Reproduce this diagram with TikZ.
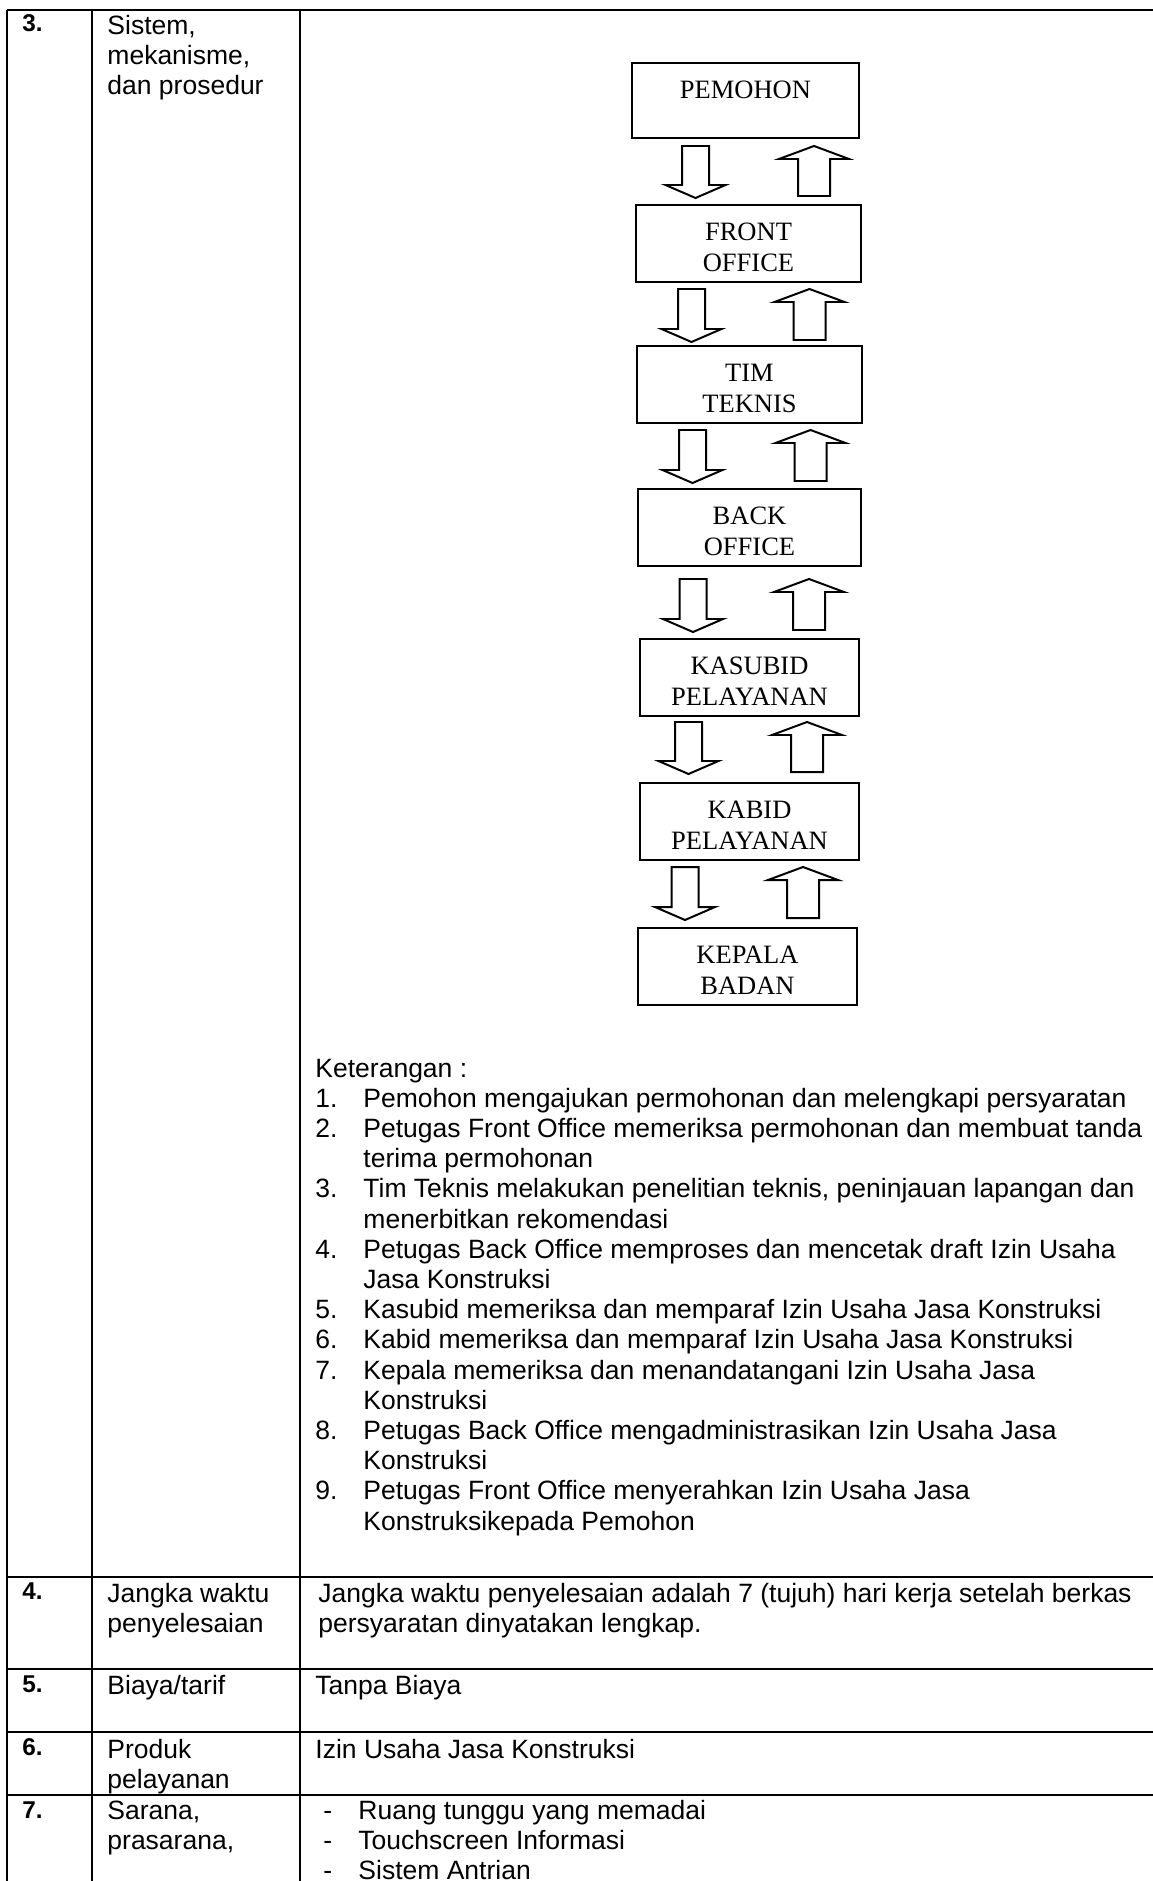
\documentclass[tikz,border=0pt]{standalone}
\usepackage{fontspec}
\setmainfont{Liberation Sans}
\newfontfamily\boxfont{Liberation Serif}
\usetikzlibrary{positioning}

% one unit = one pixel of the scanned page
\def\px{0.4528}

% hollow block arrows between the boxes
\newcommand{\downblk}[3]{%
  \draw[blockarrow] (#1-13.5,#2) -- (#1+13.5,#2) -- (#1+13.5,#3-13) -- (#1+30,#3-13)
    -- (#1,#3) -- (#1-30,#3-13) -- (#1-13.5,#3-13) -- cycle;}
\newcommand{\upblk}[3]{%
  \draw[blockarrow] (#1-16,#3) -- (#1+16,#3) -- (#1+16,#2+13) -- (#1+35,#2+13)
    -- (#1,#2) -- (#1-35,#2+13) -- (#1-16,#2+13) -- cycle;}

\tikzset{
  tabline/.style={line width=1.2pt},
  flowbox/.style={draw, line width=0.9pt, inner sep=0pt},
  flowtext/.style={font=\boxfont\fontsize{12}{14}\selectfont, align=center, inner sep=0pt},
  blockarrow/.style={draw, line width=0.9pt, line join=miter},
  celltxt/.style={font=\fontsize{12}{13.7}\selectfont, inner sep=0pt, anchor=base west},
  rownum/.style={font=\bfseries\fontsize{11}{13}\selectfont, inner sep=0pt, anchor=base west}
}

\begin{document}
\begin{tikzpicture}[x=\px pt, y=-\px pt]
  \useasboundingbox (0,0) rectangle (1153,1881);

  % table rules
  \draw[tabline] (7,10) -- (1160,10);
  \foreach \y in {1577,1669,1732,1795}
    \draw[tabline] (7,\y) -- (1160,\y);
  \foreach \x in {7,92,300}
    \draw[tabline] (\x,10) -- (\x,1890);

  % row numbers
  \foreach \n/\y in {3/32,4/1599,5/1692,6/1755,7/1818}
    \node[rownum] (no\n) at (22,\y) {\n.};

  % second column
  \foreach \y/\txt in {35/{Sistem,}, 65/{mekanisme,}, 95/{dan prosedur},
      1602/{Jangka waktu}, 1632/penyelesaian, 1694/{Biaya/tarif},
      1758/Produk, 1788/pelayanan, 1819/{Sarana,}, 1849/{prasarana,}}
    \node[celltxt] (item\y) at (107,\y) {\txt};

  % flow boxes
  \foreach \i/\l/\r/\t/\b/\txt in {
    1/632/859/63/138/{\strut PEMOHON},
    2/636/861/205/282/{\strut FRONT\\\strut OFFICE},
    3/637/862/346/423/{\strut TIM\\\strut TEKNIS},
    4/638/861/489/566/{\strut BACK\\\strut OFFICE},
    5/640/859/639/716/{\strut KASUBID\\\strut PELAYANAN},
    6/640/859/783/860/{\strut KABID\\\strut PELAYANAN},
    7/638/857/928/1005/{\strut KEPALA\\\strut BADAN}%
  } {
    \pgfmathsetmacro{\w}{(\r-\l)*\px}
    \pgfmathsetmacro{\h}{(\b-\t)*\px}
    \node[flowbox, minimum width=\w pt, minimum height=\h pt] (box\i) at ({(\l+\r)/2},{(\t+\b)/2}) {};
    \node[flowtext, below=6.5pt of box\i.north] (lab\i) {\txt};
  }

  % arrows down (left) and up (right)
  \foreach \dx/\ux/\t/\db/\ub in {695.5/814/146/198/196, 691.5/809.5/289/342/340,
      692.5/810.5/430/483/481, 693/809/579/632/630,
      688.5/807/722/774/772, 685/803/867/920/918} {
    \downblk{\dx}{\t}{\db}
    \upblk{\ux}{\t}{\ub}
  }

  % keterangan
  \node[celltxt] (ket) at (315,1077) {Keterangan :};
  \foreach \n/\k in {1/1,2/2,3/4,4/6,5/8,6/9,7/10,8/12,9/14} {
    \pgfmathsetmacro{\y}{1077+\k*30.2}
    \node[celltxt] (nr\n) at (315,\y) {\n.};
  }
  \foreach \k/\txt in {
    1/Pemohon mengajukan permohonan dan melengkapi persyaratan,
    2/Petugas Front Office memeriksa permohonan dan membuat tanda,
    3/terima permohonan,
    4/{Tim Teknis melakukan penelitian teknis, peninjauan lapangan dan},
    5/menerbitkan rekomendasi,
    6/Petugas Back Office memproses dan mencetak draft Izin Usaha,
    7/Jasa Konstruksi,
    8/Kasubid memeriksa dan memparaf Izin Usaha Jasa Konstruksi,
    9/Kabid memeriksa dan memparaf Izin Usaha Jasa Konstruksi,
    10/Kepala memeriksa dan menandatangani Izin Usaha Jasa,
    11/Konstruksi,
    12/Petugas Back Office mengadministrasikan Izin Usaha Jasa,
    13/Konstruksi,
    14/Petugas Front Office menyerahkan Izin Usaha Jasa,
    15/Konstruksikepada Pemohon%
  } {
    \pgfmathsetmacro{\y}{1077+\k*30.2}
    \node[celltxt] (ln\k) at (363,\y) {\txt};
  }

  % third column, lower rows
  \node[celltxt] (waktu1) at (318,1602) {Jangka waktu penyelesaian adalah 7 (tujuh) hari kerja setelah berkas};
  \node[celltxt] (waktu2) at (318,1632) {persyaratan dinyatakan lengkap.};
  \node[celltxt] (biaya) at (315,1694) {Tanpa Biaya};
  \node[celltxt] (produk) at (315,1758) {Izin Usaha Jasa Konstruksi};
  \foreach \y/\txt in {1819/Ruang tunggu yang memadai, 1849/Touchscreen Informasi, 1879/Sistem Antrian} {
    \node[celltxt] (dash\y) at (323,\y) {-};
    \node[celltxt] (sarana\y) at (358,\y) {\txt};
  }
\end{tikzpicture}
\end{document}
